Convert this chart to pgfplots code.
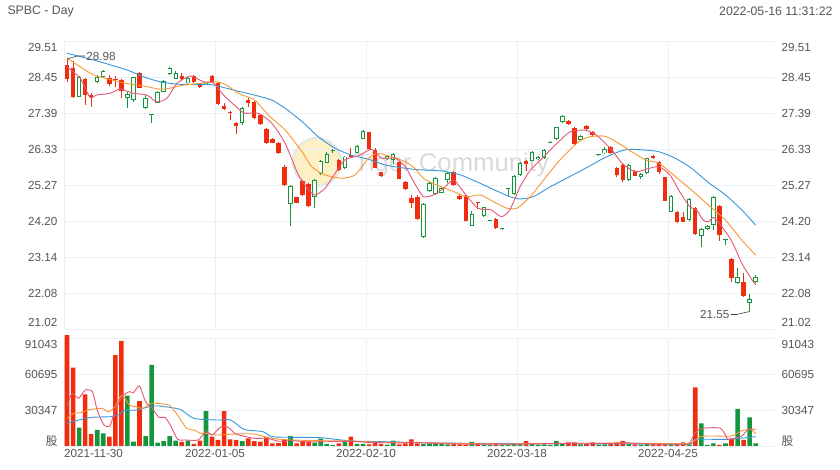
\documentclass[border=0pt]{standalone}
\usepackage{pgfplots}
\pgfplotsset{compat=1.18}
\usepackage{pgfplotstable}
\usepackage{fontspec}
\setmainfont{Liberation Sans}
\newfontfamily\cjk{Noto Sans CJK SC}

\definecolor{upgreen}{RGB}{22,150,60}
\definecolor{dnred}{RGB}{240,45,15}
\definecolor{maA}{RGB}{230,85,115}
\definecolor{maB}{RGB}{250,150,50}
\definecolor{maC}{RGB}{55,150,220}
\definecolor{gridc}{RGB}{232,241,248}
\definecolor{txt}{RGB}{85,85,85}
\newcommand{\tfont}{\fontsize{11.7}{13}\selectfont}

% candles: index, open, high, low, close
\pgfplotstableread{
i o h l c
2 27.87 28.48 27.85 28.46
5 28.29 28.51 28.26 28.46
6 28.46 28.66 28.44 28.63
10 27.82 28.02 27.53 27.94
11 27.77 28.46 27.70 28.44
13 27.55 27.92 27.50 27.84
14 27.33 27.36 27.11 27.36
15 27.68 28.04 27.68 28.00
16 28.02 28.36 28.00 28.33
17 28.54 28.74 28.52 28.71
18 28.40 28.64 28.38 28.58
20 28.26 28.46 28.24 28.41
23 28.23 28.31 28.21 28.29
29 27.09 27.56 27.04 27.53
37 24.71 25.27 24.07 25.25
41 24.91 25.44 24.59 25.42
42 25.59 26.01 25.57 25.98
43 25.93 26.25 25.91 26.18
44 26.27 26.32 26.22 26.30
46 25.76 26.13 25.74 26.11
48 26.22 26.45 26.20 26.43
49 26.63 26.89 26.62 26.87
53 26.03 26.15 26.01 26.13
54 26.01 26.20 25.89 26.17
59 23.75 24.73 23.70 24.70
60 25.10 25.37 25.08 25.34
61 25.00 25.52 24.98 25.49
62 25.05 25.20 25.03 25.17
63 25.42 25.64 25.32 25.62
67 24.07 24.51 24.06 24.41
69 24.36 24.63 24.34 24.61
70 24.22 24.25 24.21 24.24
72 23.97 24.01 23.96 24.00
73 25.14 25.17 24.96 25.17
74 25.01 25.56 24.99 25.54
75 25.57 25.96 25.55 25.93
77 25.99 26.27 25.97 26.25
78 26.03 26.12 26.01 26.10
79 26.06 26.32 26.04 26.30
80 26.52 26.56 26.51 26.55
81 26.62 26.99 26.60 26.97
82 27.14 27.33 27.09 27.30
85 26.60 26.74 26.58 26.71
88 26.15 26.19 26.14 26.18
89 26.20 26.40 26.18 26.33
93 25.42 25.88 25.40 25.86
95 25.52 25.63 25.44 25.59
96 25.63 26.08 25.61 26.06
100 24.49 24.98 24.47 24.96
103 24.24 24.90 24.22 24.85
105 23.78 24.02 23.44 23.97
106 23.98 24.09 23.95 24.07
107 24.09 24.96 23.95 24.93
109 23.64 23.69 23.52 23.68
111 22.38 22.84 22.36 22.57
113 21.79 22.06 21.55 21.91
114 22.41 22.62 22.38 22.57
}\upc

\pgfplotstableread{
i o h l c
0 28.80 28.98 28.31 28.38
1 28.71 28.93 27.82 27.85
3 28.39 28.41 27.63 27.92
4 27.92 27.99 27.58 27.85
7 28.41 28.50 28.20 28.24
8 28.39 28.48 28.17 28.35
9 28.36 28.38 27.82 28.05
12 28.56 28.59 28.12 28.14
19 28.48 28.58 28.36 28.39
21 28.48 28.50 28.28 28.29
22 28.26 28.28 28.12 28.17
24 28.48 28.51 28.26 28.29
25 28.26 28.31 27.63 27.65
26 27.61 27.68 27.48 27.51
27 27.43 27.45 27.19 27.40
28 27.11 27.14 26.77 27.02
30 27.77 27.82 27.58 27.69
31 27.72 27.74 27.21 27.23
32 27.33 27.35 27.04 27.06
33 26.92 26.94 26.48 26.50
34 26.63 26.65 26.50 26.52
35 26.50 26.55 26.18 26.20
36 25.81 25.86 25.24 25.27
38 24.91 24.93 24.73 24.75
39 25.39 25.42 24.95 24.98
40 25.30 25.34 24.63 24.65
45 26.01 26.03 25.69 25.71
47 26.16 26.37 26.09 26.11
50 26.82 26.84 26.30 26.32
51 26.30 26.35 25.76 25.78
52 25.64 25.66 25.52 25.55
55 25.96 25.98 25.44 25.46
56 25.37 25.39 25.12 25.14
57 24.90 24.98 24.59 24.73
58 24.93 24.98 24.24 24.26
64 25.64 25.68 25.25 25.27
65 24.96 25.00 24.83 24.86
66 24.95 24.98 24.21 24.22
68 24.77 24.78 24.57 24.73
71 24.26 24.29 23.98 24.00
76 25.99 26.01 25.68 25.88
83 27.16 27.18 27.04 27.06
84 26.94 26.97 26.45 26.47
86 27.01 27.03 26.88 26.91
87 26.84 26.86 26.72 26.74
90 26.40 26.42 26.18 26.20
91 25.76 25.79 25.52 25.57
92 25.86 25.88 25.37 25.42
94 25.68 25.70 25.53 25.55
97 26.13 26.15 26.04 26.06
98 25.96 25.99 25.61 25.64
99 25.50 25.52 24.79 24.81
101 24.49 24.51 24.15 24.17
102 24.32 24.49 24.17 24.19
104 24.60 24.63 23.81 23.83
108 24.65 24.68 23.63 23.80
110 23.09 23.11 22.43 22.54
112 22.43 22.69 21.99 22.01
}\dnc

% volume on up / down days
\pgfplotstableread{
i v
2 15400
5 13500
6 10700
10 42400
11 3650
13 8400
14 68300
15 2800
16 4200
17 8400
18 4500
20 4500
23 29500
29 4200
37 8400
41 2800
42 6200
43 1700
44 800
46 4500
48 1700
49 1700
53 1200
54 4500
59 1700
60 2200
61 1700
62 2200
63 1400
67 3400
69 1200
70 1000
72 900
73 1200
74 1700
75 1400
77 1700
78 1200
79 1400
80 1000
81 4200
82 1700
85 1400
88 1200
89 1400
93 1700
95 1200
96 1700
100 1400
103 1400
105 19100
106 850
107 2250
109 2250
111 31200
113 24200
114 2250
}\upv

\pgfplotstableread{
i v
0 93500
1 66000
3 43600
4 10100
7 7900
8 76700
9 88600
12 37900
19 3400
21 1700
22 4500
24 7900
25 5100
26 29500
27 5600
28 5100
30 6500
31 4200
32 3600
33 7300
34 2200
35 2500
36 5000
38 2200
39 3600
40 3600
45 2200
47 7900
50 1400
51 2800
52 1700
55 1400
56 2200
57 5600
58 2200
64 1700
65 1400
66 1200
68 1700
71 1700
76 4200
83 3100
84 3100
86 2000
87 3100
90 1700
91 3100
92 4200
94 1400
97 1400
98 1700
99 2000
101 1700
102 3100
104 49500
108 850
110 6500
112 5100
}\dnv

\pgfplotsset{
  cwick/.style={draw=none, mark=none, error bars/.cd, y dir=plus, y explicit,
    error mark=none, error bar style={solid, line width=0.9pt, draw=#1}},
  cbody/.style={draw=none, mark=none, error bars/.cd, y dir=plus, y explicit,
    error mark=none, error bar style={solid, line width=4.4pt, draw=#1}},
  cinner/.style={draw=none, mark=none, error bars/.cd, y dir=plus, y explicit,
    error mark=none, error bar style={solid, line width=2.5pt, draw=white}},
  maline/.style={#1, line width=0.9pt, mark=none, smooth, tension=0.4},
}

\begin{document}
\begin{tikzpicture}
\useasboundingbox (0,0) rectangle (840pt,470pt);

\node[anchor=west, font=\fontsize{12.3}{14}\selectfont, text=txt] at (4pt,459pt) {SPBC - Day};
\node[anchor=east, font=\fontsize{12.3}{14}\selectfont, text=txt] at (836pt,459pt) {2022-05-16 11:31:22};

% watermark
\fill[fill={rgb,255:red,252;green,236;blue,185}, opacity=0.8] (317pt,308pt) circle (23pt);
\draw[draw={rgb,255:red,222;green,222;blue,222}, line width=2.2pt, opacity=0.75] (317pt,308pt) circle (24pt);
\node[anchor=base west, font=\fontsize{25.7}{28}\selectfont, text={rgb,255:red,205;green,205;blue,205}, opacity=0.75, inner sep=0pt] at (354pt,298pt) {Tiger Community};

% price panel
\begin{axis}[
  at={(64pt,140.5pt)}, anchor=south west, scale only axis,
  width=711pt, height=288.5pt,
  xmin=-0.5, xmax=117.2, ymin=21.02, ymax=29.51,
  xtick={-0.5,24.5,49.5,74.5,99.5}, xticklabels={},
  ytick={21.02,22.08,23.14,24.20,25.27,26.33,27.39,28.45,29.51},
  yticklabels={\raisebox{0pt}[0pt][5.8pt]{21.02},22.08,23.14,24.20,25.27,26.33,27.39,28.45,\raisebox{0pt}[20.2pt][0pt]{29.51}},
  grid=major, grid style={gridc, line width=0.8pt},
  axis line style={draw=none}, major tick length=0pt,
  tick label style={font=\tfont, text=txt},
  yticklabel style={xshift=-3pt},
]
\addplot[cwick=dnred] table[x=i, y=l, y error expr=\thisrow{h}-\thisrow{l}] {\dnc};
\addplot[cbody=dnred] table[x=i, y=c, y error expr=\thisrow{o}-\thisrow{c}] {\dnc};
\addplot[cwick=upgreen] table[x=i, y=l, y error expr=\thisrow{h}-\thisrow{l}] {\upc};
\addplot[cbody=upgreen] table[x=i, y=o, y error expr=\thisrow{c}-\thisrow{o}] {\upc};
\addplot[cinner] table[x=i, y expr=\thisrow{o}+0.028, y error expr={max(\thisrow{c}-\thisrow{o}-0.056,0)}] {\upc};

\addplot[maline=maC] coordinates {
(0,29.15) (4.4,28.95) (9.9,28.66) (12.6,28.46) (15.4,28.31) (18.2,28.24) (20.9,28.23)
(23.7,28.23) (26.4,28.12) (28.6,28.02) (31,27.92) (33.9,27.77) (36.1,27.53) (38.9,27.14)
(41.6,26.69) (44.4,26.35) (47.1,26.15) (49.9,26.03) (52.7,25.86) (55.4,25.78) (57.6,25.73)
(59.5,25.71) (62.3,25.68) (65.1,25.57) (67.8,25.37) (70.6,25.14) (73.3,24.93) (75,24.86)
(77.2,24.93) (80,25.22) (82.7,25.47) (86.2,25.80) (88.5,26.03) (91.3,26.25) (93,26.32)
(95.8,26.30) (98,26.25) (100.7,26.06) (103.4,25.76) (106.2,25.34) (109,24.98) (111.7,24.54)
(114,24.09)};
\addplot[maline=maB] coordinates {
(0,29.00) (2.2,28.75) (4.4,28.51) (7.1,28.38) (9.9,28.26) (12.6,28.19) (15.4,28.09)
(17,28.12) (19.3,28.21) (22,28.26) (24.8,28.31) (26.4,28.21) (28.6,27.95) (31.1,27.77)
(33.3,27.33) (36.1,26.89) (38.9,26.25) (40.5,25.81) (42.7,25.57) (45.5,25.47) (47.7,25.57)
(49.9,26.06) (51.5,26.20) (53.8,26.10) (56,25.96) (57.6,25.76) (59,25.47) (61.2,25.27)
(64,25.08) (66.2,24.93) (68.4,24.98) (70.6,24.78) (72.8,24.59) (74.5,24.59) (76.7,24.93)
(78.9,25.42) (81.6,26.01) (84.4,26.50) (86.2,26.68) (89,26.71) (91.3,26.50) (93.5,26.25)
(95.8,26.01) (98,25.91) (100.7,25.52) (103.4,25.12) (106.2,24.68) (109,24.24) (111.7,23.65)
(114,23.21)};
\addplot[maline=maA] coordinates {
(0,28.75) (2.2,28.41) (3.8,27.85) (4.9,27.92) (7.1,27.97) (8.8,28.09) (11,27.97)
(13.2,27.92) (14.8,27.72) (16.5,27.82) (18.2,28.26) (20.4,28.48) (22.6,28.31) (24.2,28.28)
(25.9,27.92) (28.6,27.48) (29.5,27.38) (31.7,27.38) (33.9,27.09) (36.1,26.50) (38.3,25.57)
(40,25.13) (41.1,24.98) (42.7,25.17) (44.4,25.62) (46,26.01) (48.2,26.13) (50.4,26.32)
(52.1,26.06) (54.3,26.06) (56,25.81) (57.6,25.30) (59,24.93) (60.7,24.98) (62.3,25.17)
(64,25.42) (65.8,25.03) (68,24.59) (70.2,24.54) (71.9,24.34) (73.3,24.54) (75,25.22)
(76.7,25.71) (78.9,26.10) (81.1,26.50) (83.3,26.84) (85.5,26.89) (86.6,26.84) (88,26.69)
(90.2,26.30) (91.9,25.91) (94.1,25.66) (96.3,25.76) (98,25.81) (99.8,25.57) (101.4,25.08)
(103.1,24.63) (104.2,24.54) (105.3,24.24) (106.2,24.19) (107,24.32) (108.4,24.05)
(110.1,23.60) (111.7,22.97) (113.4,22.48) (114,22.33)};

\draw[black!75, line width=0.6pt] (axis cs:0,28.98) -- ++(10pt,3pt) -- ++(8pt,0pt)
  node[anchor=west, inner sep=1pt, font=\tfont, text=txt] {28.98};
\draw[black!75, line width=0.6pt] (axis cs:113,21.55) -- ++(-13pt,-3pt) -- ++(-6pt,0pt)
  node[anchor=east, inner sep=1pt, font=\tfont, text=txt] {21.55};
\end{axis}

% right-hand price labels
\begin{axis}[
  at={(64pt,140.5pt)}, anchor=south west, scale only axis,
  width=711pt, height=288.5pt,
  xmin=-0.5, xmax=117.2, ymin=21.02, ymax=29.51,
  axis x line=none, axis y line*=right,
  y axis line style={draw=none}, major tick length=0pt,
  ytick={21.02,22.08,23.14,24.20,25.27,26.33,27.39,28.45,29.51},
  yticklabels={\raisebox{0pt}[0pt][5.8pt]{21.02},22.08,23.14,24.20,25.27,26.33,27.39,28.45,\raisebox{0pt}[20.2pt][0pt]{29.51}},
  tick label style={font=\tfont, text=txt},
  yticklabel style={xshift=3pt},
]
\addplot[draw=none] coordinates {(0,25)};
\end{axis}

% volume panel
\begin{axis}[
  at={(64pt,24pt)}, anchor=south west, scale only axis,
  width=711pt, height=108pt,
  xmin=-0.5, xmax=117.2, ymin=0, ymax=91043,
  xtick={-0.5,24.5,49.5,74.5,99.5},
  xticklabels={\makebox[0pt][l]{2021-11-30},2022-01-05,2022-02-10,2022-03-18,2022-04-25},
  ytick={0,30347,60695,91043},
  yticklabels={\raisebox{0pt}[4pt][4pt]{\cjk 股},30347,60695,\raisebox{0pt}[20.2pt][0pt]{91043}},
  scaled y ticks=false,
  grid=major, grid style={gridc, line width=0.8pt},
  axis line style={draw=none}, major tick length=0pt,
  tick label style={font=\tfont, text=txt},
  yticklabel style={xshift=-3pt},
  clip=false,
]
\addplot[ybar, bar width=4.6pt, bar shift=0pt, fill=dnred, draw=none] table[x=i, y=v] {\dnv};
\addplot[ybar, bar width=4.6pt, bar shift=0pt, fill=upgreen, draw=none] table[x=i, y=v] {\upv};

\addplot[maline=maC] coordinates {
(0,19100) (1.9,21900) (4.2,24200) (7.2,24700) (8.4,26100) (9.5,29800) (11.4,30300)
(13.7,33200) (15.2,33700) (18.7,30900) (21,23300) (24.8,21900) (27.1,21900) (29.3,14000)
(32.4,12100) (33.9,7900) (37,7300) (42,7000) (47,4200) (52,3700) (58,2800) (67.5,2200)
(80,1900) (95,1800) (103,1700) (104,5600) (109.4,5600) (114,7900)};
\addplot[maline=maB] coordinates {
(0,23300) (1.1,27500) (2.3,28100) (3.4,30300) (5.7,31800) (6.9,28900) (8,33700)
(9.1,43000) (10.3,34600) (11.4,33200) (12.6,31800) (14.1,36000) (16.8,34600) (17.9,28900)
(19.8,14900) (21,13500) (22.1,10700) (23.2,10700) (24.8,9300) (27.8,10100) (30.9,10100)
(33.9,6500) (37,5100) (42,4500) (47,4200) (52,3200) (57,3000) (62,2500) (67,2000)
(72,1700) (77,1800) (82,2100) (87,2300) (92,2400) (97,2200) (103,2200) (104.8,7900)
(107,8400) (110,8400) (111.7,12900) (113.2,14000) (114,10100)};
\addplot[maline=maA] coordinates {
(0,33200) (0.8,44400) (1.9,40200) (3,47200) (4.2,45800) (5,30300) (6.1,17700)
(7.1,16900) (8,30300) (9.1,41600) (10.3,45800) (11,45000) (12,50600) (13,37400)
(14.1,31800) (15.2,24200) (16.2,24200) (17.1,17700) (18.3,5600) (19.4,5100) (21.7,5100)
(23,12100) (24,9300) (25.5,16300) (26.7,15700) (28,10000) (31,6500) (33.2,6500) (35,4000)
(37,4500) (40,3500) (43,3600) (47,4000) (50,3000) (55,2600) (58,3000) (62,1900) (66,1600)
(70,1600) (75,1600) (78,2000) (82,2200) (86,2300) (90,2200) (93,2600) (97,1600) (100,1700)
(102.9,2000) (104,11500) (105.2,14900) (108.2,14900) (109.4,5600) (110.5,6500)
(111.7,8400) (112.8,14000) (114,14000)};
\end{axis}

% right-hand volume labels
\begin{axis}[
  at={(64pt,24pt)}, anchor=south west, scale only axis,
  width=711pt, height=108pt,
  xmin=-0.5, xmax=117.2, ymin=0, ymax=91043,
  axis x line=none, axis y line*=right,
  y axis line style={draw=none}, major tick length=0pt,
  ytick={0,30347,60695,91043},
  yticklabels={\raisebox{0pt}[4pt][4pt]{\cjk 股},30347,60695,\raisebox{0pt}[20.2pt][0pt]{91043}},
  scaled y ticks=false,
  tick label style={font=\tfont, text=txt},
  yticklabel style={xshift=3pt},
]
\addplot[draw=none] coordinates {(0,1000)};
\end{axis}
\end{tikzpicture}
\end{document}
